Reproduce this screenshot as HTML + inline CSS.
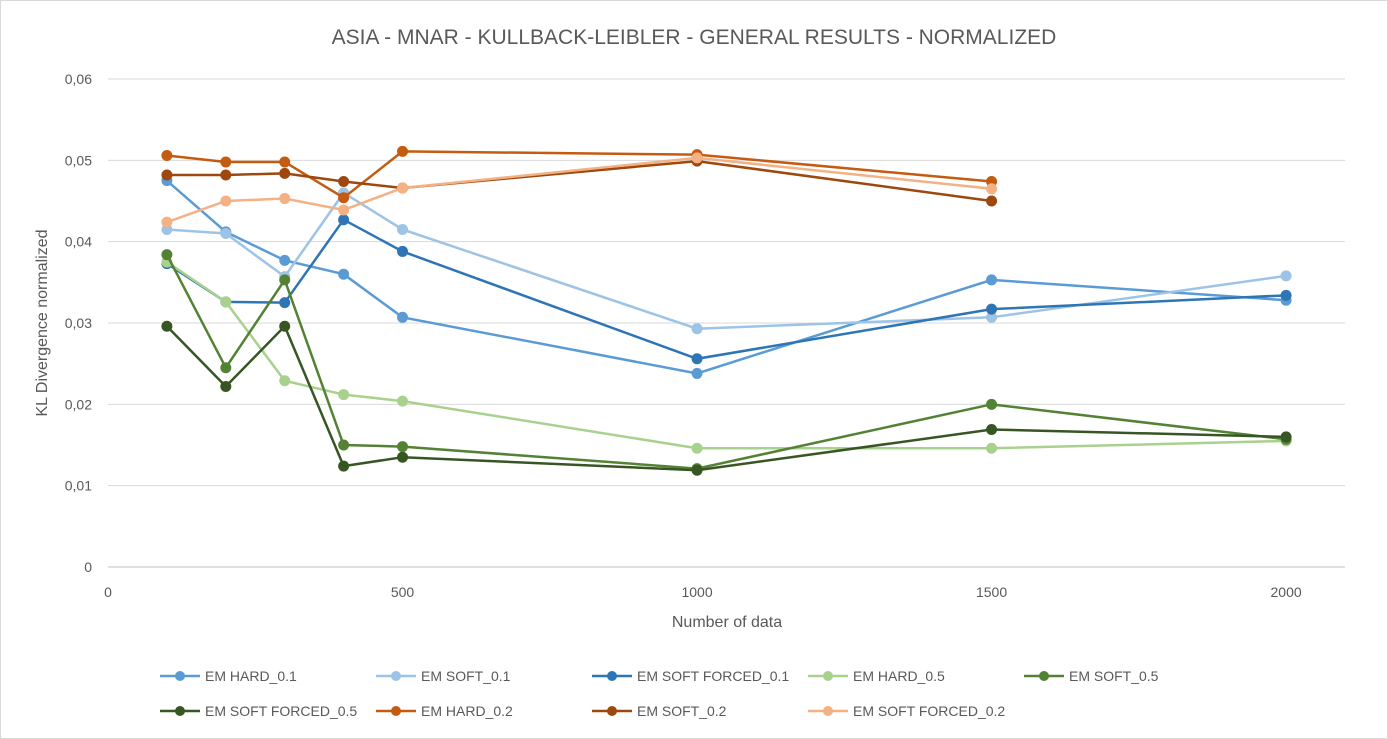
<!DOCTYPE html>
<html><head><meta charset="utf-8"><style>
body{margin:0;background:#fff;}
svg{display:block;font-family:"Liberation Sans",sans-serif;}
</style></head><body>
<svg id="chart" width="1388" height="739">
<rect x="0.5" y="0.5" width="1387" height="738" fill="#fff" stroke="#d9d9d9"/>
<text x="694" y="44" text-anchor="middle" font-size="21" fill="#595959">ASIA - MNAR - KULLBACK-LEIBLER  - GENERAL RESULTS - NORMALIZED</text>
<g id="grid"></g><g id="axes"></g><g id="series"></g><g id="legend"></g>
<text x="727" y="627" text-anchor="middle" font-size="16" fill="#595959">Number of data</text>
<text transform="translate(47,323) rotate(-90)" text-anchor="middle" font-size="16" fill="#595959">KL Divergence normalized</text>
</svg>
<script>
const xValues=[100,200,300,400,500,1000,1500,2000];
const seriesNames=["EM HARD_0.1","EM SOFT_0.1","EM SOFT FORCED_0.1","EM HARD_0.5","EM SOFT_0.5","EM SOFT FORCED_0.5","EM HARD_0.2","EM SOFT_0.2","EM SOFT FORCED_0.2"];
const seriesColors=["#5B9BD5","#9DC3E6","#2E75B6","#A9D18E","#548235","#375623","#C55A11","#9E480E","#F4B183"];
const hard01=[0.0475,0.0412,0.0377,0.0360,0.0307,0.0238,0.0353,0.0328];
const soft01=[0.0415,0.0410,0.0357,0.0460,0.0415,0.0293,0.0307,0.0358];
const forced01=[0.0373,0.0326,0.0325,0.0427,0.0388,0.0256,0.0317,0.0334];
const hard05=[0.0375,0.0326,0.0229,0.0212,0.0204,0.0146,0.0146,0.0155];
const soft05=[0.0384,0.0245,0.0353,0.0150,0.0148,0.0121,0.0200,0.0157];
const forced05=[0.0296,0.0222,0.0296,0.0124,0.0135,0.0119,0.0169,0.0160];
const hard02=[0.0506,0.0498,0.0498,0.0454,0.0511,0.0507,0.0474];
const soft02=[0.0482,0.0482,0.0484,0.0474,0.0466,0.0499,0.0450];
const forced02=[0.0424,0.0450,0.0453,0.0439,0.0466,0.0503,0.0465];
const yTicks=[0,0.01,0.02,0.03,0.04,0.05,0.06];
const yTickLabels=["0","0,01","0,02","0,03","0,04","0,05","0,06"];
const xTicks=[0,500,1000,1500,2000];
const xTickLabels=["0","500","1000","1500","2000"];

const NS="http://www.w3.org/2000/svg";
const X0=108,X1=1345,XMAX=2100,Y0=567,Y1=79,YMAX=0.06;
const xs=v=>X0+(v/XMAX)*(X1-X0);
const ys=v=>Y0-(v/YMAX)*(Y0-Y1);
function mk(tag,attrs,parent){const e=document.createElementNS(NS,tag);for(const k in attrs)e.setAttribute(k,attrs[k]);parent.appendChild(e);return e;}
const grid=document.getElementById('grid'),axes=document.getElementById('axes'),ser=document.getElementById('series'),leg=document.getElementById('legend');
yTicks.forEach((t,i)=>{
  const l=mk('line',{x1:X0,x2:X1,y1:ys(t),y2:ys(t),stroke:i===0?'#bfbfbf':'#d9d9d9','stroke-width':1},grid);
  
  
  const tx=mk('text',{x:92,y:ys(t)+5,'text-anchor':'end','font-size':14,fill:'#595959'},axes);
  tx.textContent=yTickLabels[i];
  
  
});
xTicks.forEach((t,i)=>{
  const tx=mk('text',{x:xs(t),y:597,'text-anchor':'middle','font-size':14,fill:'#595959'},axes);
  tx.textContent=xTickLabels[i];
  
  
});
const data=[hard01,soft01,forced01,hard05,soft05,forced05,hard02,soft02,forced02];
data.forEach((arr,si)=>{
  const g=mk('g',{},ser);
  
  
  const pts=arr.map((v,i)=>xs(xValues[i])+','+ys(v)).join(' ');
  mk('polyline',{points:pts,fill:'none',stroke:seriesColors[si],'stroke-width':2.5},g);
  arr.forEach((v,i)=>{
    const c=mk('circle',{cx:xs(xValues[i]),cy:ys(v),r:5,fill:seriesColors[si],stroke:seriesColors[si]},g);
    
    
  });
});
seriesNames.forEach((n,i)=>{
  const x=160+(i%5)*216, y=i<5?676:711;
  const g=mk('g',{},leg);
  
  
  mk('line',{x1:x,x2:x+40,y1:y,y2:y,stroke:seriesColors[i],'stroke-width':2.5},g);
  mk('circle',{cx:x+20,cy:y,r:5,fill:seriesColors[i]},g);
  const t=mk('text',{x:x+45,y:y+5,'font-size':14,fill:'#595959'},g);
  t.textContent=n;
});
</script>
</body></html>
